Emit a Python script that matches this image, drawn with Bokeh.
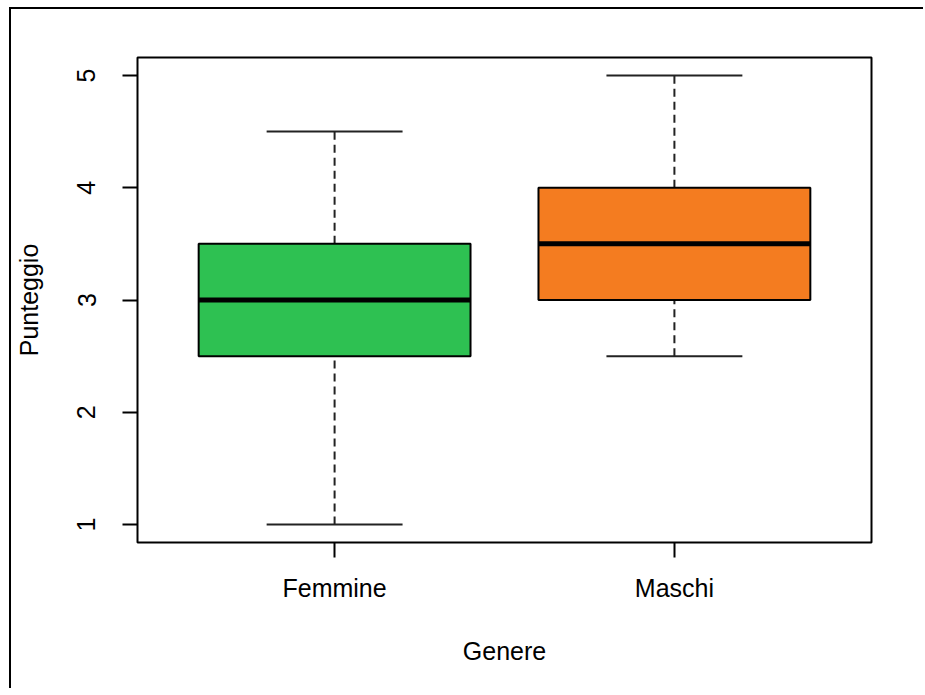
from bokeh.plotting import figure
from bokeh.models import FactorRange, Range1d, FixedTicker
from bokeh.transform import dodge
from bokeh.embed import file_html
from bokeh.resources import INLINE

# ---- data ----
categories = ["Femmine", "Maschi"]
whisker_low = [1.0, 2.5]
q1 = [2.5, 3.0]
median = [3.0, 3.5]
q3 = [3.5, 4.0]
whisker_high = [4.5, 5.0]
colors = ["#2ec152", "#f47c20"]
y_ticks = [1, 2, 3, 4, 5]

FONT = "Liberation Sans"
FS = "25px"

xr = FactorRange(*categories, range_padding=0.08, range_padding_units="absolute")
p = figure(x_range=xr, y_range=Range1d(0.84, 5.16), width=914, height=681,
           output_backend="svg", toolbar_location=None,
           min_border_left=122, min_border_right=54, min_border_top=48, min_border_bottom=148)
p.styles = {"margin-left": "9px", "margin-top": "7px",
            "border-left": "2px solid black", "border-top": "2px solid black"}

src = dict(cat=categories, lo=whisker_low, q1=q1, med=median, q3=q3, hi=whisker_high, color=colors)

# whiskers (dashed)
p.segment(x0="cat", x1="cat", y0="q3", y1="hi", source=src, line_color="#222222",
          line_width=2, line_dash="8 5")
p.segment(x0="cat", x1="cat", y0="lo", y1="q1", source=src, line_color="#222222",
          line_width=2, line_dash="8 5")
# staples
p.segment(x0=dodge("cat", -0.2, range=xr), x1=dodge("cat", 0.2, range=xr), y0="hi", y1="hi",
          source=src, line_color="#222222", line_width=2)
p.segment(x0=dodge("cat", -0.2, range=xr), x1=dodge("cat", 0.2, range=xr), y0="lo", y1="lo",
          source=src, line_color="#222222", line_width=2)
# boxes
p.vbar(x="cat", bottom="q1", top="q3", width=0.8, source=src, fill_color="color",
       line_color="black", line_width=2)
# medians
p.segment(x0=dodge("cat", -0.4, range=xr), x1=dodge("cat", 0.4, range=xr), y0="med", y1="med",
          source=src, line_color="black", line_width=5, line_cap="butt")

p.xgrid.grid_line_color = None
p.ygrid.grid_line_color = None
p.outline_line_color = "black"
p.outline_line_width = 2
p.outline_line_alpha = 1
p.background_fill_color = "white"
p.border_fill_color = "white"

for ax in (p.xaxis[0], p.yaxis[0]):
    ax.axis_line_color = None
    ax.major_tick_line_color = "black"
    ax.major_tick_line_width = 2
    ax.major_tick_out = 15
    ax.major_tick_in = 0
    ax.minor_tick_line_color = None
    ax.major_label_text_font = FONT
    ax.major_label_text_font_size = FS
    ax.major_label_text_color = "black"
    ax.axis_label_text_font = FONT
    ax.axis_label_text_font_size = FS
    ax.axis_label_text_font_style = "normal"
    ax.axis_label_text_color = "black"

p.xaxis.axis_label = "Genere"
p.xaxis.major_label_standoff = 16
p.xaxis.axis_label_standoff = 32
p.yaxis.axis_label = "Punteggio"
p.yaxis.ticker = FixedTicker(ticks=y_ticks)
p.yaxis.major_label_orientation = "vertical"
p.yaxis.major_label_standoff = 27
p.yaxis.axis_label_standoff = 32

open("out.html", "w").write(file_html(p, INLINE))
